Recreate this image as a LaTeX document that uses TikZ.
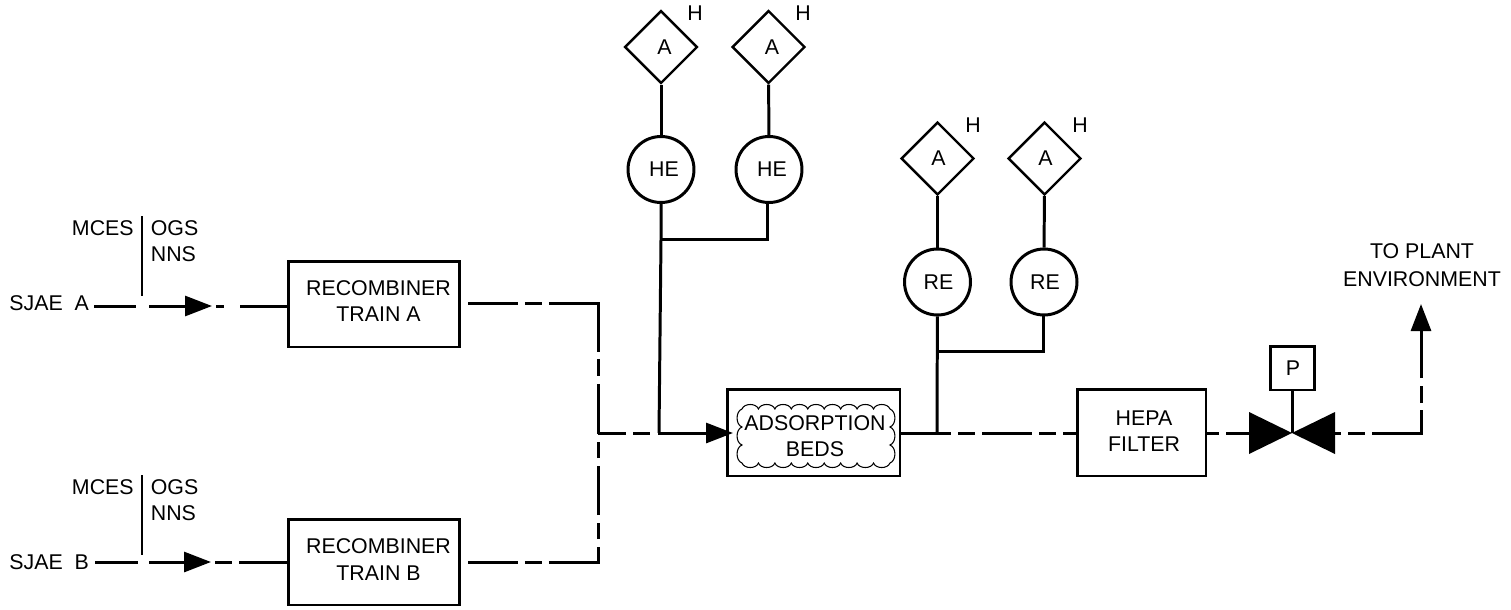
\documentclass[tikz,border=0pt]{standalone}
\usepackage{fontspec}
\setmainfont{Liberation Sans}
\usetikzlibrary{arrows.meta,shapes.geometric}
\tikzset{
  every node/.style={font=\fontsize{12.15}{14.9}\selectfont,inner sep=0pt},
  flow/.style={line width=1.7pt},
  flowtip/.style={flow,-{Triangle[length=.54cm,width=.4cm]}},
  plantbox/.style={draw,line width=1.7pt,rectangle},
  boxtext/.style={align=center},
  alarm/.style={draw,line width=1.4pt,diamond,aspect=1,minimum width=1.46cm,minimum height=1.46cm},
  elem/.style={draw,line width=1.7pt,circle,minimum size=1.32cm}
}
\begin{document}
\begin{tikzpicture}[x=0.02cm,y=-0.02cm]
\useasboundingbox (0,0) rectangle (1511,609);
% boxes
\node[plantbox,minimum width=3.44cm,minimum height=1.72cm] (recA) at (374,304) {};
\node[plantbox,minimum width=3.44cm,minimum height=1.72cm] (recB) at (374,562) {};
\node[plantbox,minimum width=3.46cm,minimum height=1.74cm] (adsorb) at (813.5,432.5) {};
\node[plantbox,minimum width=2.58cm,minimum height=1.74cm] (hepa) at (1141.5,432.5) {};
\node[plantbox,minimum width=.88cm,minimum height=.88cm] (pbox) at (1292,368) {\hspace*{.04cm}P};
\node[boxtext] (recAtext) at (378.5,301) {RECOMBINER\\TRAIN A};
\node[boxtext] (recBtext) at (378.5,559.5) {RECOMBINER\\TRAIN B};
\node[boxtext] (adsorbtext) at (815,436.5) {ADSORPTION\\BEDS};
\node[boxtext] (hepatext) at (1144,431) {HEPA\\FILTER};
\node[boxtext] (plant) at (1422,265) {TO PLANT\\[1pt]ENVIRONMENT};
\draw[line width=.6pt] (742,409)
  \foreach \i in {1,...,9} { to[bend left=70] ++(16.44,0) }
  \foreach \i in {1,2,3} { to[bend left=70] ++(0,18) }
  \foreach \i in {1,...,9} { to[bend left=70] ++(-16.44,0) }
  \foreach \i in {1,2,3} { to[bend left=70] ++(0,-18) } -- cycle;
% inlet labels
\node[anchor=west] (sjaeA) at (9,303) {SJAE\ \ A};
\node[anchor=east] (mcesA) at (134,228) {MCES};
\node[anchor=west] (ogsA) at (150.5,228) {OGS};
\node[anchor=west] (nnsA) at (150.5,254.5) {NNS};
\node[anchor=west] (sjaeB) at (9,562) {SJAE\ \ B};
\node[anchor=east] (mcesB) at (134,487.5) {MCES};
\node[anchor=west] (ogsB) at (150.5,487.5) {OGS};
\node[anchor=west] (nnsB) at (150.5,513) {NNS};
% instruments
\node[alarm] (dmdHEa) at (661,47) {\hspace*{.14cm}A};
\node[alarm] (dmdHEb) at (768.5,47) {\hspace*{.14cm}A};
\node[elem] (cirHEa) at (661,169.5) {\hspace*{.12cm}HE};
\node[elem] (cirHEb) at (769,169.5) {\hspace*{.12cm}HE};
\node (hHEa) at (695,13) {H};
\node (hHEb) at (803,13) {H};
\node[alarm] (dmdREa) at (937.5,158.5) {\hspace*{.04cm}A};
\node[alarm] (dmdREb) at (1044.5,158.5) {\hspace*{.04cm}A};
\node[elem] (cirREa) at (937.5,282) {\hspace*{.04cm}RE};
\node[elem] (cirREb) at (1044,282) {\hspace*{.04cm}RE};
\node (hREa) at (973,125) {H};
\node (hREb) at (1080,125) {H};
\draw[flow] (dmdHEa) -- (cirHEa);
\draw[flow] (dmdHEb) -- (cirHEb);
\draw[flow] (dmdREa) -- (cirREa);
\draw[flow] (dmdREb) -- (cirREb);
% junctions
\coordinate (busHEa) at (661,239);
\coordinate (busHEb) at (767,239);
\coordinate (busREa) at (937,351);
\coordinate (busREb) at (1043,351);
\coordinate (teeHE) at (659,433);
\coordinate (teeRE) at (937,433);
\coordinate (teeIn) at (598,433);
\coordinate (cornerA) at (598,303);
\coordinate (cornerB) at (598,562);
\coordinate (outA) at (468,303);
\coordinate (outB) at (468,562);
\coordinate (tipAds) at (733,433);
\coordinate (valveL) at (1249,433);
\coordinate (valveM) at (1292,433);
\coordinate (valveR) at (1335,433);
\coordinate (cornerOut) at (1421,433);
\coordinate (tipOut) at (1421,304);
\draw[flow] (cirHEa) -- (busHEa) -- (teeHE);
\draw[flow] (busHEa) -- (busHEb) -- (busHEb |- cirHEb.south);
\draw[flow] (cirREa) -- (teeRE);
\draw[flow] (busREa) -- (busREb) -- (busREb |- cirREb.south);
\draw[flowtip] (teeHE) -- (tipAds);
% dashed runs
\draw[flow,line join=miter,dash pattern=on 1cm off .14cm on .34cm off .14cm on 1.96cm off .14cm on .34cm off .16cm on .98cm] (outA) -- (cornerA) -- (teeIn);
\draw[flow,line join=miter,dash pattern=on 1cm off .14cm on .34cm off .14cm on 1.28cm off .16cm on .32cm off .16cm on .98cm off .16cm on .32cm off .16cm] (outB) -- (cornerB) -- (teeIn);
\draw[flow,dash pattern=on .56cm off .14cm on .34cm off .16cm on 1cm] (teeIn) -- (teeHE);
\draw[flow,dash pattern=on 1cm off .14cm on .34cm off .14cm] (adsorb.east |- teeRE) -- (hepa.west |- teeRE);
\draw[flow,dash pattern=on .24cm off .14cm on 1cm] (hepa.east |- valveL) -- (valveL);
\draw[flowtip,line join=miter,dash pattern=on .12cm off .14cm on .34cm off .14cm on 1.44cm off .14cm on .34cm off .16cm on 2cm] (valveR) -- (cornerOut) -- (tipOut);
% valve
\fill (1249,412) -- (1249,454) -- (valveM) -- cycle;
\fill (1335,412) -- (1335,454) -- (valveM) -- cycle;
\draw[flow] (pbox) -- (valveM);
% inlets
\coordinate (dividerAtop) at (142,216);
\coordinate (dividerAbot) at (142,296);
\coordinate (dividerBtop) at (142,475);
\coordinate (dividerBbot) at (142,555);
\draw[flow] (dividerAtop) -- (dividerAbot);
\draw[flow] (dividerBtop) -- (dividerBbot);
\coordinate (inAa) at (94,306);
\coordinate (inAb) at (136,306);
\coordinate (inAc) at (149,306);
\coordinate (inAd) at (212,306);
\coordinate (inAe) at (216,306);
\coordinate (inAf) at (224,306);
\coordinate (inAg) at (240,306);
\draw[flow] (inAa) -- (inAb);
\draw[flowtip] (inAc) -- (inAd);
\draw[flow] (inAe) -- (inAf);
\draw[flow] (inAg) -- (recA.west |- inAg);
\coordinate (inBa) at (95,562);
\coordinate (inBb) at (138,562);
\coordinate (inBc) at (149,562);
\coordinate (inBd) at (211,562);
\coordinate (inBe) at (215,562);
\coordinate (inBf) at (232,562);
\coordinate (inBg) at (239,562);
\draw[flow] (inBa) -- (inBb);
\draw[flowtip] (inBc) -- (inBd);
\draw[flow] (inBe) -- (inBf);
\draw[flow] (inBg) -- (recB.west |- inBg);
\end{tikzpicture}
\end{document}
